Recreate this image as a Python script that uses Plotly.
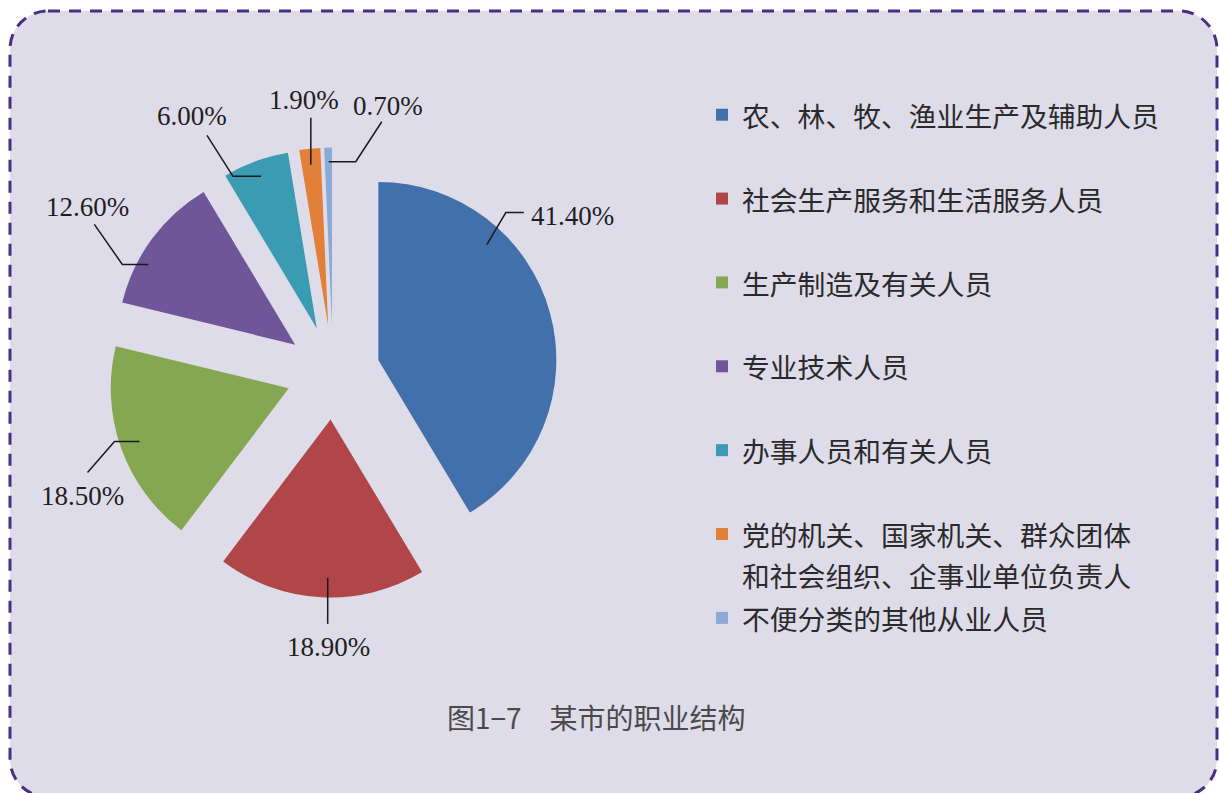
import math
import plotly.graph_objects as go

# ---------------- data ----------------
categories = [
    "农、林、牧、渔业生产及辅助人员",
    "社会生产服务和生活服务人员",
    "生产制造及有关人员",
    "专业技术人员",
    "办事人员和有关人员",
    "党的机关、国家机关、群众团体<br>和社会组织、企事业单位负责人",
    "不便分类的其他从业人员",
]
shares = [41.4, 18.9, 18.5, 12.6, 6.0, 1.9, 0.7]
share_labels = ["41.40%", "18.90%", "18.50%", "12.60%", "6.00%", "1.90%", "0.70%"]
caption = "图1−7　某市的职业结构"

# ---------------- style / layout ----------------
colors = ["#4270aa", "#b04648", "#86a752", "#6e5698", "#3a9bb2", "#e2803a", "#8caad6"]
W, H = 1219, 793
dom_x = [0.0886, 0.4578]
dom_y = [0.2465, 0.8140]
pull = 0.264

# leader-line layout per label: position of anchor inside slice (fraction of slice angle,
# fraction of radius), elbow offsets (px), label offset from last point (px), anchor side
anchor_frac = [0.29, 0.47, 0.5, 0.33, 0.5, 0.47, 0.55]
anchor_rad = [0.89, 0.89, 0.89, 0.94, 0.91, 0.91, 0.92]
elbows = [
    [(19, -32), (18, 0)],
    [(0, 46)],
    [(-25, 0), (-27, 31)],
    [(-26, 0), (-28, -40)],
    [(-28, 0), (-26, -41)],
    [(0, -47)],
    [(27, 0), (26, -40)],
]
label_off = [(5, 3), (1, 23), (-5, 24), (-7, -17), (-15, -19), (-7, -18), (6, -16)]
label_anchor = ["left", "center", "center", "center", "center", "center", "center"]

# pie geometry, same as plotly computes it
box_w = W * (dom_x[1] - dom_x[0])
box_h = H * (dom_y[1] - dom_y[0])
r = min(box_w, box_h) / (2 + 2 * pull)
cx = W * (dom_x[0] + dom_x[1]) / 2
cy = H * (1 - (dom_y[0] + dom_y[1]) / 2)

def px2paper(x, y):
    return x / W, 1 - y / H

def P(x, y):
    px, py = px2paper(x, y)
    return f"{px:.5f},{py:.5f}"

total = sum(shares)
shapes = []
annotations = []

# rounded dashed frame
L, R, T, B, rad = 10, 1217, 11, 797, 38
k = 0.5523 * rad
path = (
    f"M {P(L + rad, T)} L {P(R - rad, T)} "
    f"C {P(R - rad + k, T)} {P(R, T + rad - k)} {P(R, T + rad)} "
    f"L {P(R, B - rad)} "
    f"C {P(R, B - rad + k)} {P(R - rad + k, B)} {P(R - rad, B)} "
    f"L {P(L + rad, B)} "
    f"C {P(L + rad - k, B)} {P(L, B - rad + k)} {P(L, B - rad)} "
    f"L {P(L, T + rad)} "
    f"C {P(L, T + rad - k)} {P(L + rad - k, T)} {P(L + rad, T)} Z"
)
shapes.append(dict(type="path", xref="paper", yref="paper", path=path,
                   fillcolor="#dfdcea", layer="below",
                   line=dict(color="#4b2e84", width=3, dash="12px,9px")))

cum = 0.0
for i, v in enumerate(shares):
    a0 = cum / total * 360.0
    a1 = (cum + v) / total * 360.0
    cum += v
    amid = math.radians((a0 + a1) / 2)
    # displaced slice centre
    sx = cx + pull * r * math.sin(amid)
    sy = cy - pull * r * math.cos(amid)
    aa = math.radians(a0 + anchor_frac[i] * (a1 - a0))
    x0 = sx + anchor_rad[i] * r * math.sin(aa)
    y0 = sy - anchor_rad[i] * r * math.cos(aa)
    seg = [(x0, y0)]
    for dx, dy in elbows[i]:
        seg.append((seg[-1][0] + dx, seg[-1][1] + dy))
    p = "M " + " L ".join(P(x, y) for x, y in seg)
    shapes.append(dict(type="path", xref="paper", yref="paper", path=p,
                       line=dict(color="#1a1a1a", width=1.5), layer="above"))
    lx, ly = seg[-1][0] + label_off[i][0], seg[-1][1] + label_off[i][1]
    ax, ay = px2paper(lx, ly)
    annotations.append(dict(x=ax, y=ay, xref="paper", yref="paper", text=share_labels[i],
                            showarrow=False, xanchor=label_anchor[i], yanchor="middle",
                            font=dict(family="Liberation Serif", size=27, color="#1e1e1e")))

cap_x, cap_y = px2paper(596, 717)
annotations.append(dict(x=cap_x, y=cap_y, xref="paper", yref="paper", text=caption,
                        showarrow=False, xanchor="center", yanchor="middle",
                        font=dict(family="Noto Sans CJK SC", size=28, color="#4a4a4a")))

legend_labels = [
    f'<span style="font-size:27.8px">{c}</span>' + ("" if "<br>" in c else "<br> ")
    for c in categories
]

fig = go.Figure(go.Pie(
    labels=legend_labels,
    values=shares,
    marker=dict(colors=colors, line=dict(width=0)),
    pull=[pull] * len(shares),
    sort=False,
    direction="clockwise",
    rotation=0,
    textinfo="none",
    hoverinfo="skip",
    domain=dict(x=dom_x, y=dom_y),
))

leg_x, leg_y = px2paper(702, 88)
fig.update_layout(
    width=W, height=H,
    margin=dict(l=0, r=0, t=0, b=0),
    paper_bgcolor="white",
    plot_bgcolor="white",
    showlegend=True,
    legend=dict(x=leg_x, y=leg_y, xanchor="left", yanchor="top",
                bgcolor="rgba(0,0,0,0)", borderwidth=0, valign="top",
                font=dict(family="Noto Sans CJK SC", size=31.1, color="#2a2a2a")),
    shapes=shapes,
    annotations=annotations,
)

fig.write_html("out.html")
